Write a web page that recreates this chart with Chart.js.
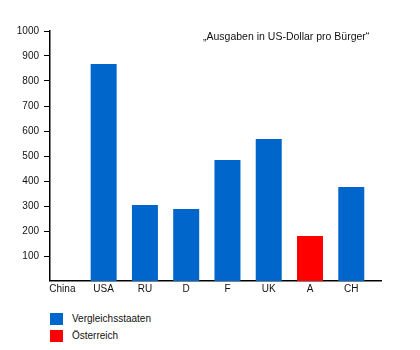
<!DOCTYPE html>
<html>
<head>
<meta charset="utf-8">
<script src="https://cdn.jsdelivr.net/npm/chart.js@4"></script>
<style>
  body { margin: 0; background: #fff; font-family: "Liberation Sans", Arial, sans-serif; }
  #wrap { position: relative; width: 420px; height: 300px; }
  #legend { position: absolute; left: 50px; top: 310px; font-size: 10px; color: #111; }
  .item { height: 17px; display: flex; align-items: center; }
  .box { width: 13px; height: 12px; margin-right: 9px; }
</style>
</head>
<body>
<div id="wrap"><canvas id="chart"></canvas></div>
<div id="legend"></div>
<script>
// categories + values (US-Dollar pro Bürger)
const categories = ['China', 'USA', 'RU', 'D', 'F', 'UK', 'A', 'CH'];
const values = [0, 868, 304, 288, 484, 568, 180, 376];
const groups = ['Vergleichsstaaten', 'Vergleichsstaaten', 'Vergleichsstaaten', 'Vergleichsstaaten',
                'Vergleichsstaaten', 'Vergleichsstaaten', 'Österreich', 'Vergleichsstaaten'];
const yTicks = [100, 200, 300, 400, 500, 600, 700, 800, 900, 1000];

const groupColors = { 'Vergleichsstaaten': '#0066cc', 'Österreich': '#ff0000' };
const FONT = { family: '"Liberation Sans", Arial, sans-serif', size: 10 };

const notePlugin = {
    id: 'note',
    afterDraw(chart) {
        const ctx = chart.ctx;
        ctx.save();
        ctx.font = '10.5px "Liberation Sans", Arial, sans-serif';
        ctx.fillStyle = '#111';
        ctx.textAlign = 'left';
        ctx.textBaseline = 'middle';
        ctx.fillText('\u201EAusgaben in US-Dollar pro B\u00fcrger\u201C', 203, 37);
        ctx.restore();
    }
};

// x is a linear axis so China sits close to the y axis like in the original
new Chart(document.getElementById('chart'), {
    type: 'bar',
    data: {
        datasets: [{
            data: values.map((v, i) => ({ x: i, y: v })),
            backgroundColor: groups.map(g => groupColors[g]),
            barPercentage: 0.63,
            categoryPercentage: 1
        }]
    },
    options: {
        responsive: true,
        maintainAspectRatio: false,
        animation: false,
        layout: { padding: { top: 31, right: 39, left: 0, bottom: 0 } },
        plugins: { legend: { display: false }, tooltip: { enabled: false } },
        scales: {
            x: {
                type: 'linear',
                min: -0.3, max: 7.72,
                offset: false,
                afterBuildTicks(scale) { scale.ticks = categories.map((c, i) => ({ value: i })); },
                grid: { display: false, drawTicks: false },
                border: { color: '#000', width: 1.5 },
                ticks: { color: '#111', font: FONT, padding: 2, autoSkip: false, maxRotation: 0,
                         callback: v => categories[v] },
                afterFit(scale) { scale.height = 19; }
            },
            y: {
                min: 0, max: 1000,
                afterBuildTicks(scale) { scale.ticks = [{ value: 0 }].concat(yTicks.map(v => ({ value: v }))); },
                grid: { drawOnChartArea: false, drawTicks: true, tickLength: 6, color: '#000',
                        lineWidth: ctx => ctx.tick && ctx.tick.value === 0 ? 0 : 1 },
                border: { color: '#000', width: 1.5 },
                ticks: { color: '#111', font: FONT, padding: 5,
                         callback: v => v === 0 ? '' : v },
                afterFit(scale) { scale.width = 50; }
            }
        }
    },
    plugins: [notePlugin]
});

const legendEl = document.getElementById('legend');
Object.keys(groupColors).forEach(name => {
    const row = document.createElement('div');
    row.className = 'item';
    row.innerHTML = `<span class="box" style="background:${groupColors[name]}"></span><span>${name}</span>`;
    legendEl.appendChild(row);
});
</script>
</body>
</html>
